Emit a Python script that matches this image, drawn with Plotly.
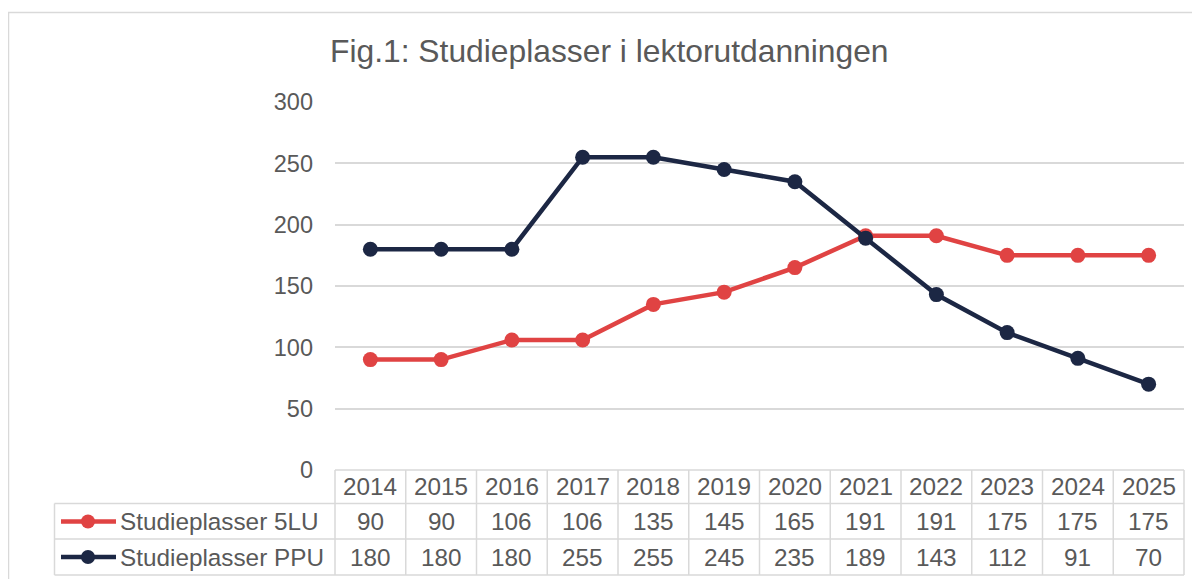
import plotly.graph_objects as go

years = ["2014", "2015", "2016", "2017", "2018", "2019", "2020", "2021", "2022", "2023", "2024", "2025"]
lu5 = [90, 90, 106, 106, 135, 145, 165, 191, 191, 175, 175, 175]
ppu = [180, 180, 180, 255, 255, 245, 235, 189, 143, 112, 91, 70]
series_names = ["Studieplasser 5LU", "Studieplasser PPU"]
colors = ["#E04343", "#1C2744"]
title_text = "Fig.1: Studieplasser i lektorutdanningen"

OFF = 8  # default body margin of the page
W, H = 1200 - OFF, 579 - OFF
L, R, T, B = 335 - OFF, 16, 102 - OFF, 109
pw, ph = W - L - R, H - T - B
FONT = "Liberation Sans, Arial, sans-serif"
TXT = "#595959"
GRID = "#D9D9D9"
FS_TICK = 23.5
FS_TAB = 24.3


def xp(px):  # page pixel -> paper
    return (px - OFF - L) / pw


def yp(py):
    return (H - B - (py - OFF)) / ph


fig = go.Figure()
xs = list(range(len(years)))
for name, vals, c in zip(series_names, [lu5, ppu], colors):
    fig.add_trace(go.Scatter(x=xs, y=vals, name=name, mode="lines+markers",
                             line=dict(color=c, width=4.5),
                             marker=dict(color=c, size=15),
                             cliponaxis=False, showlegend=False))

shapes = []
annotations = []
n = len(years)
row_edges = [470, 503.5, 539, 575]
row_centers = [486.5, 521.5, 557]
left_px = 54.5


def hline(x0, x1, y):
    shapes.append(dict(type="line", xref="paper", yref="paper", x0=x0, x1=x1, y0=yp(y), y1=yp(y),
                       line=dict(color=GRID, width=1.5), layer="below"))


def vline(x, y0, y1):
    shapes.append(dict(type="line", xref="paper", yref="paper", x0=x, x1=x, y0=yp(y0), y1=yp(y1),
                       line=dict(color=GRID, width=1.5), layer="below"))


hline(0, 1, row_edges[0])
for y in row_edges[1:]:
    hline(xp(left_px), 1, y)
for i in range(n + 1):
    vline(i / n, row_edges[0], row_edges[-1])
vline(xp(left_px), row_edges[1], row_edges[-1])

for i, yr in enumerate(years):
    annotations.append(dict(x=i, xref="x", y=yp(row_centers[0]), yref="paper", text=yr,
                            xanchor="center", yanchor="middle",
                            showarrow=False, font=dict(family=FONT, size=FS_TAB, color=TXT)))
for r, vals in enumerate([lu5, ppu]):
    yc = yp(row_centers[r + 1])
    for i, v in enumerate(vals):
        annotations.append(dict(x=i, xref="x", y=yc, yref="paper", text=str(v),
                                xanchor="center", yanchor="middle",
                                showarrow=False, font=dict(family=FONT, size=FS_TAB, color=TXT)))
    shapes.append(dict(type="line", xref="paper", yref="paper", x0=xp(61), x1=xp(116), y0=yc, y1=yc,
                       line=dict(color=colors[r], width=4.5)))
    shapes.append(dict(type="circle", xref="paper", yref="paper", xsizemode="pixel", ysizemode="pixel",
                       xanchor=xp(88), yanchor=yc, x0=-7, x1=7, y0=-7, y1=7,
                       fillcolor=colors[r], line=dict(color=colors[r], width=0)))
    annotations.append(dict(x=xp(118), xref="paper", y=yc, yref="paper", text=series_names[r],
                            xanchor="left", yanchor="middle",
                            showarrow=False, font=dict(family=FONT, size=FS_TAB, color=TXT)))

shapes.append(dict(type="rect", xref="paper", yref="paper", x0=xp(8.5), x1=xp(1210), y0=yp(12.5), y1=yp(600),
                   line=dict(color=GRID, width=1.5), layer="below"))

fig.update_layout(
    width=W, height=H,
    margin=dict(l=L, r=R, t=T, b=B, pad=0),
    paper_bgcolor="white", plot_bgcolor="white",
    title=dict(text=title_text, x=(330 - OFF) / W, xanchor="left", xref="container",
               y=1 - (51 - OFF) / H, yanchor="middle", font=dict(family=FONT, size=31.8, color=TXT)),
    xaxis=dict(range=[-0.5, n - 0.5], showticklabels=False, showgrid=False, zeroline=False,
               showline=False, fixedrange=True),
    yaxis=dict(range=[0, 300], dtick=50, tick0=0, showgrid=True, gridcolor=GRID, gridwidth=1.5,
               zeroline=False, showline=False, ticks="", ticklabelstandoff=21,
               tickfont=dict(family=FONT, size=FS_TICK, color=TXT)),
    shapes=shapes, annotations=annotations,
    showlegend=False,
)

fig.write_html("out.html")
